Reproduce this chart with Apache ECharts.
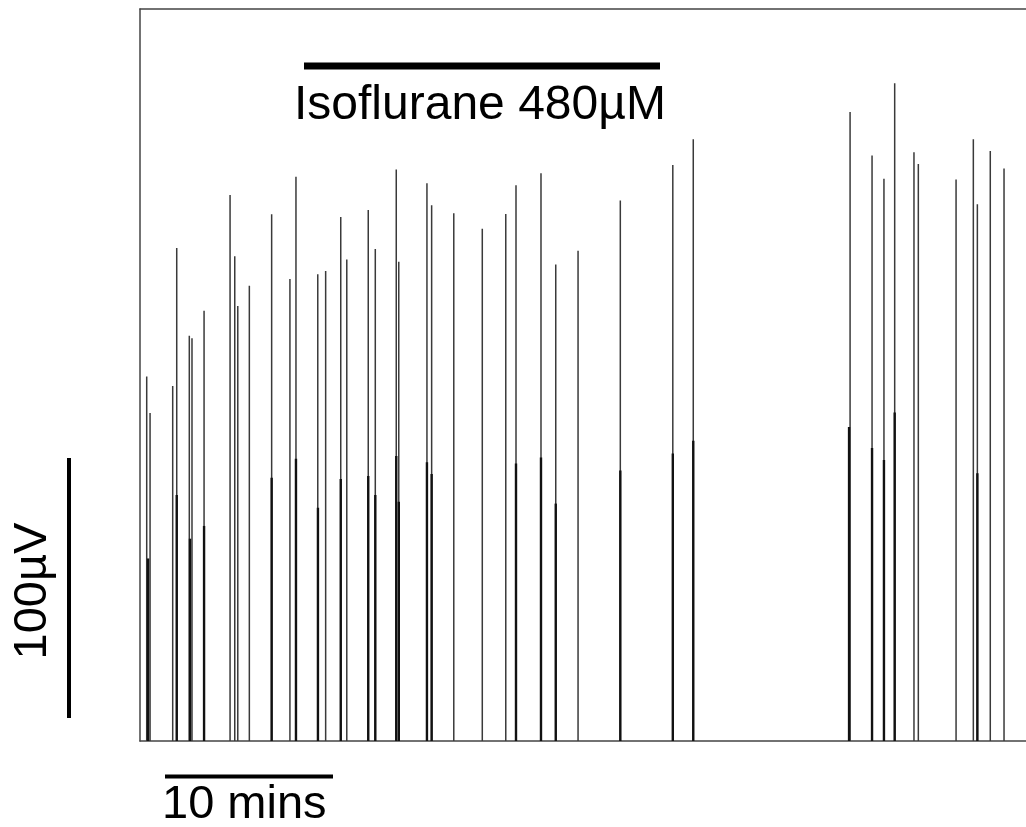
<!DOCTYPE html>
<html>
<head>
<meta charset="utf-8">
<script src="https://cdn.jsdelivr.net/npm/echarts@6/dist/echarts.min.js"></script>
<style>
  html, body { margin: 0; padding: 0; background: #fff; }
  #trace { width: 1026px; height: 827px; }
</style>
</head>
<body>
<div id="trace"></div>
<script>
// time of each event (mins) and its peak amplitude (uV)
var spikeTimes = [0.40, 0.60, 1.95, 2.19, 2.94, 3.10, 3.82, 5.37, 5.65, 5.83, 6.52, 7.85, 8.94, 9.30,
  10.60, 11.07, 11.97, 12.33, 13.61, 14.03, 15.28, 15.43, 17.11, 17.39, 18.71, 20.41, 21.81, 22.42,
  23.91, 24.79, 26.12, 28.64, 31.77, 32.99, 42.34, 43.65, 44.36, 45.00, 46.15, 46.41, 48.66, 49.69,
  49.93, 50.70, 51.52];
var spikeAmps = [140.2, 126.1, 136.5, 189.6, 155.8, 154.9, 165.5, 210.0, 186.4, 167.3, 175.1, 202.6, 177.7, 217.0,
  179.5, 180.7, 201.5, 185.2, 204.2, 189.2, 219.8, 184.3, 214.5, 206.0, 203.0, 197.0, 202.7, 213.7,
  218.3, 183.2, 188.5, 207.9, 221.5, 231.4, 241.9, 225.2, 216.2, 252.9, 226.4, 221.9, 215.9, 231.4,
  206.4, 226.9, 220.2];

// second (darker) trace, lower amplitude
var lowTimes = [0.48, 2.19, 2.98, 3.82, 7.85, 9.30, 10.61, 11.97, 13.61, 14.03, 15.28, 15.43, 17.11,
  17.39, 22.42, 23.91, 24.79, 28.64, 31.77, 32.99, 42.28, 43.65, 44.36, 45.00, 49.93];
var lowAmps = [70.2, 94.6, 77.8, 82.7, 101.2, 108.5, 89.7, 100.8, 101.9, 94.6, 109.6, 92.0, 107.2,
  102.7, 106.7, 109.0, 91.3, 104.0, 110.6, 115.5, 120.8, 112.7, 108.1, 126.3, 103.0];

var xMax = 52.83;
var yMax = 281.5;

var dom = document.getElementById('trace');
var myChart = echarts.init(dom, null, { renderer: 'canvas' });

function pairs(xs, ys) {
  return xs.map(function (x, i) { return [x, ys[i]]; });
}

function spike(color, width) {
  return function (params, api) {
    var top = api.coord([api.value(0), api.value(1)]);
    var base = api.coord([api.value(0), 0]);
    return {
      type: 'line',
      shape: { x1: top[0], y1: top[1], x2: base[0], y2: base[1] },
      style: { stroke: color, lineWidth: width }
    };
  };
}

var font = '"Liberation Sans", Arial, sans-serif';
var frame = { show: true, onZero: false, lineStyle: { color: '#444', width: 1.5 } };

var option = {
  animation: false,
  backgroundColor: '#fff',
  grid: { left: 140, right: 0, top: 9, bottom: 86 },
  xAxis: [
    {
      type: 'value', min: 0, max: xMax,
      axisLine: frame,
      axisTick: { show: false }, axisLabel: { show: false }, splitLine: { show: false }
    },
    {
      type: 'value', min: 0, max: xMax, position: 'top',
      axisLine: frame,
      axisTick: { show: false }, axisLabel: { show: false }, splitLine: { show: false }
    }
  ],
  yAxis: {
    type: 'value', min: 0, max: yMax,
    axisLine: frame,
    axisTick: { show: false }, axisLabel: { show: false }, splitLine: { show: false }
  },
  series: [
    {
      type: 'custom',
      renderItem: spike('#3a3a3a', 1.5),
      data: pairs(spikeTimes, spikeAmps)
    },
    {
      type: 'custom',
      renderItem: spike('#111', 2.4),
      data: pairs(lowTimes, lowAmps)
    }
  ],
  graphic: [
    { type: 'line', shape: { x1: 304, y1: 66, x2: 660, y2: 66 }, style: { stroke: '#000', lineWidth: 7 } },
    { type: 'text', x: 294, y: 106, style: { text: 'Isoflurane 480µM', font: '48px ' + font, fill: '#000', textAlign: 'left', textVerticalAlign: 'middle' } },
    { type: 'line', shape: { x1: 165, y1: 776.5, x2: 333, y2: 776.5 }, style: { stroke: '#000', lineWidth: 4 } },
    { type: 'text', x: 162, y: 805, style: { text: '10 mins', font: '47px ' + font, fill: '#000', textAlign: 'left', textVerticalAlign: 'middle' } },
    { type: 'line', shape: { x1: 69, y1: 458, x2: 69, y2: 718 }, style: { stroke: '#000', lineWidth: 4 } },
    { type: 'text', x: 33, y: 591, rotation: Math.PI / 2, style: { text: '100µV', font: '47px ' + font, fill: '#000', textAlign: 'center', textVerticalAlign: 'middle' } }
  ]
};

myChart.setOption(option);

window.addEventListener('resize', myChart.resize);
</script>
</body>
</html>
